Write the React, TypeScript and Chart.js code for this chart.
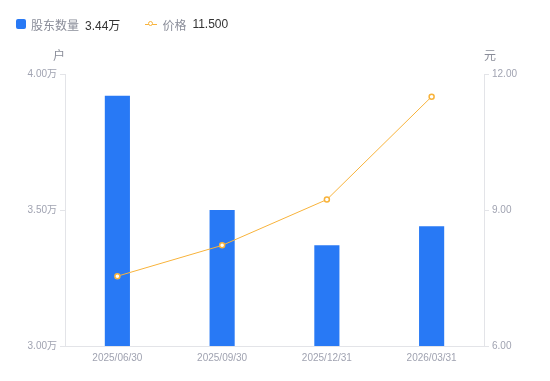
import React, { useEffect, useRef } from "react";
import { Chart, registerables } from "chart.js";
Chart.register(...registerables);

const categories = ["2025/06/30", "2025/09/30", "2025/12/31", "2026/03/31"];
const holders = [3.92, 3.5, 3.37, 3.44]; // 万户
const prices = [7.54, 8.22, 9.23, 11.5]; // 元
const leftTicks = [3.0, 3.5, 4.0];
const rightTicks = [6.0, 9.0, 12.0];

const FONT = '"Liberation Sans", "Noto Sans CJK SC", sans-serif';
const BLUE = "#2879F5";
const ORANGE = "#F8B33B";
const GRAY = "#A0A3B1";
const AXIS = "#E3E4E8";

export default function App() {
  const ref = useRef<HTMLCanvasElement | null>(null);
  useEffect(() => {
    if (!ref.current) return;
    const titles = {
      id: "axisTitles",
      afterDraw(chart: any) {
        const { ctx, chartArea } = chart;
        ctx.save();
        ctx.font = `12px ${FONT}`;
        ctx.fillStyle = "#8A8D99";
        ctx.textBaseline = "middle";
        ctx.textAlign = "center";
        ctx.fillText("户", chartArea.left - 6, 57);
        ctx.fillText("元", chartArea.right + 6, 57);
        ctx.restore();
      },
    };
    const chart = new Chart(ref.current, {
      type: "bar",
      data: {
        labels: categories,
        datasets: [
          {
            type: "line",
            label: "价格",
            data: prices,
            yAxisID: "y1",
            borderColor: ORANGE,
            borderWidth: 1,
            pointRadius: 2.5,
            pointBorderWidth: 1.5,
            pointBackgroundColor: "#ffffff",
            pointBorderColor: ORANGE,
            tension: 0,
            order: 0,
          } as any,
          {
            type: "bar",
            label: "股东数量",
            data: holders,
            yAxisID: "y",
            backgroundColor: BLUE,
            barPercentage: 0.24,
            categoryPercentage: 1,
            order: 1,
          },
        ],
      },
      options: {
        animation: false,
        responsive: false,
        maintainAspectRatio: false,
        layout: { padding: { top: 74, left: 0, right: 0, bottom: 0 } },
        plugins: { legend: { display: false }, tooltip: { enabled: false } },
        scales: {
          x: {
            grid: { display: false, drawTicks: false },
            border: { color: AXIS },
            ticks: { color: GRAY, font: { family: FONT, size: 10 }, padding: 6, maxRotation: 0 },
            afterFit(s: any) { s.height = 35; },
          },
          y: {
            position: "left",
            min: 3,
            max: 4,
            afterBuildTicks(s: any) { s.ticks = leftTicks.map((v) => ({ value: v })); },
            grid: { drawOnChartArea: false, tickLength: 5, color: AXIS },
            border: { color: AXIS },
            ticks: {
              color: GRAY,
              font: { family: FONT, size: 10 },
              padding: 3,
              callback: (v: any) => Number(v).toFixed(2) + "万",
            },
            afterFit(s: any) { s.width = 65; },
          },
          y1: {
            position: "right",
            min: 6,
            max: 12,
            afterBuildTicks(s: any) { s.ticks = rightTicks.map((v) => ({ value: v })); },
            grid: { drawOnChartArea: false, tickLength: 5, color: AXIS },
            border: { color: AXIS },
            ticks: {
              color: GRAY,
              font: { family: FONT, size: 10 },
              padding: 3,
              callback: (v: any) => Number(v).toFixed(2),
            },
            afterFit(s: any) { s.width = 66; },
          },
        },
      },
      plugins: [titles],
    });
    return () => chart.destroy();
  }, []);

  return (
    <div style={{ position: "absolute", left: 0, top: 0, width: 550, height: 381, background: "#fff", fontFamily: FONT }}>
      <canvas ref={ref} width={550} height={381} style={{ position: "absolute", left: 0, top: 0 }} />
      <div style={{ position: "absolute", left: 16, top: 16, height: 16, display: "flex", alignItems: "center", fontSize: 12, whiteSpace: "nowrap" }}>
        <span style={{ display: "inline-block", width: 10, height: 10, background: BLUE, borderRadius: 2 }} />
        <span style={{ marginLeft: 5, color: "#8A8D99" }}>股东数量</span>
        <span style={{ marginLeft: 6, color: "#333" }}>3.44万</span>
        <span style={{ marginLeft: 25, position: "relative", display: "inline-block", width: 12, height: 10 }}>
          <span style={{ position: "absolute", left: 0, top: 4.5, width: 12, height: 1, background: ORANGE }} />
          <span style={{ position: "absolute", left: 3, top: 2, width: 3, height: 3, borderRadius: "50%", border: `1.5px solid ${ORANGE}`, background: "#fff" }} />
        </span>
        <span style={{ marginLeft: 5, color: "#8A8D99" }}>价格</span>
        <span style={{ marginLeft: 6, color: "#333" }}>11.500</span>
      </div>
    </div>
  );
}
